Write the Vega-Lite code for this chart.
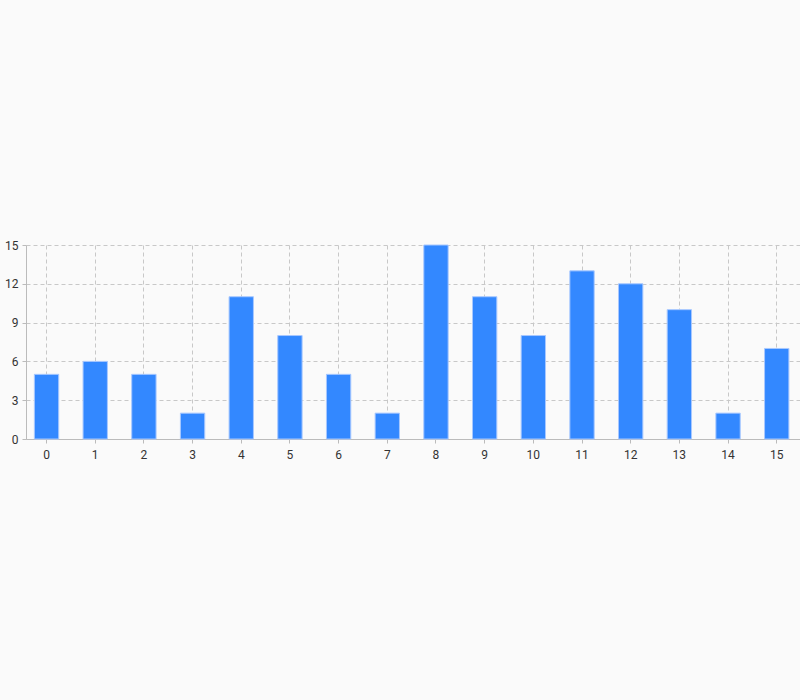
{
  "$schema": "https://vega.github.io/schema/vega-lite/v6.json",
  "autosize": "none",
  "width": 774,
  "height": 194,
  "padding": {"left": 26, "top": 245, "right": 0, "bottom": 261},
  "background": "#fafafa",
  "data": {
    "values": [
      {"category": "0", "value": 5},
      {"category": "1", "value": 6},
      {"category": "2", "value": 5},
      {"category": "3", "value": 2},
      {"category": "4", "value": 11},
      {"category": "5", "value": 8},
      {"category": "6", "value": 5},
      {"category": "7", "value": 2},
      {"category": "8", "value": 15},
      {"category": "9", "value": 11},
      {"category": "10", "value": 8},
      {"category": "11", "value": 13},
      {"category": "12", "value": 12},
      {"category": "13", "value": 10},
      {"category": "14", "value": 2},
      {"category": "15", "value": 7}
    ]
  },
  "mark": {"type": "bar", "color": "#3388ff", "stroke": "#a8c8ff", "strokeWidth": 1},
  "encoding": {
    "x": {
      "field": "category",
      "type": "ordinal",
      "sort": null,
      "scale": {"paddingInner": 0.5, "paddingOuter": 0.2, "align": 0.43},
      "axis": {
        "title": null,
        "labelAngle": 0,
        "labelFont": "Roboto",
        "labelFontSize": 12,
        "labelColor": "#333",
        "labelPadding": 6,
        "domainColor": "#bbb",
        "tickColor": "#bbb",
        "tickSize": 4,
        "grid": true,
        "gridColor": "#c8c8c8",
        "gridDash": [4, 3]
      }
    },
    "y": {
      "field": "value",
      "type": "quantitative",
      "scale": {"domain": [0, 15], "nice": false},
      "axis": {
        "title": null,
        "values": [0, 3, 6, 9, 12, 15],
        "labelFont": "Roboto",
        "labelFontSize": 12,
        "labelColor": "#333",
        "labelPadding": 4,
        "domainColor": "#bbb",
        "tickColor": "#bbb",
        "tickSize": 4,
        "grid": true,
        "gridColor": "#c8c8c8",
        "gridDash": [4, 3]
      }
    }
  },
  "config": {"view": {"stroke": null}}
}
